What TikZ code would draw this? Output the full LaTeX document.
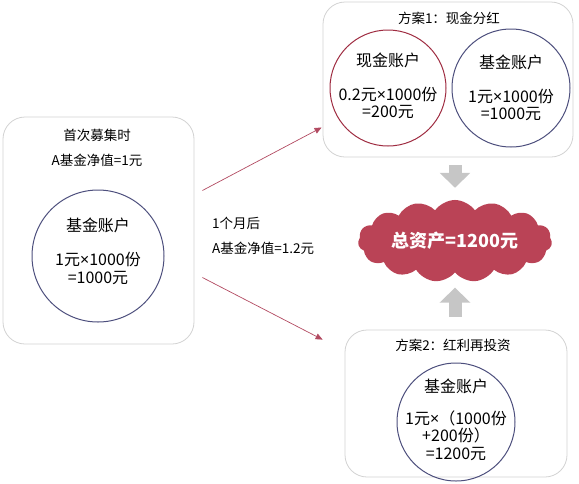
\documentclass[tikz,border=0pt]{standalone}
\usepackage{fontspec}
\setmainfont{Noto Sans CJK SC}
\newfontfamily\latinfont{Noto Sans}
\newcommand{\by}{{\latinfont ×}}
\usetikzlibrary{arrows.meta, positioning, shapes.symbols}
\definecolor{boxgray}{HTML}{D2D2D2}
\definecolor{acctblue}{HTML}{4D4F7D}
\definecolor{acctred}{HTML}{9E2B40}
\definecolor{linkred}{HTML}{B24A61}
\definecolor{cloudred}{HTML}{BA4356}
\definecolor{arrowgray}{HTML}{C6C6C6}
\tikzset{
  plan/.style={draw=boxgray, line width=0.8pt, rounded corners=22pt},
  acct/.style={circle, line width=1pt, inner sep=0pt},
  acctxt/.style={align=center, font=\fontsize{16}{17.5}\selectfont, inner sep=0pt},
  caption/.style={font=\fontsize{13.5}{15}\selectfont, inner sep=0pt},
  link/.style={draw=linkred, line width=0.7pt, -{Triangle[length=7pt,width=6pt]}},
  fatarrow/.style={draw=arrowgray, line width=13pt, -{Triangle[length=15pt,width=30pt]}},
}

\begin{document}
\begin{tikzpicture}[x=1pt, y=-1pt]
\useasboundingbox (0,0) rectangle (579,483);
% left: first offer
\node[plan, minimum width=191pt, minimum height=227pt] (first) at (98.5,230.5) {};
\node[caption] (firsttitle) at (97,135) {首次募集时};
\node[caption] (firstnav) at (97,160) {A基金净值=1元};
\node[acct, draw=acctblue, minimum size=132pt] (acct0) at (98,256) {};
\node[acctxt] at ([yshift=5pt]acct0.center) {基金账户\\[17pt]1元\by1000份\\=1000元};
% middle text
\node[caption, anchor=west] (month) at (212,223) {1个月后};
\node[caption, anchor=west] (newnav) at (212,248) {A基金净值=1.2元};
% plan 1: cash dividend
\node[plan, minimum width=250pt, minimum height=155pt] (plan1) at (448,79.5) {};
\node[caption] (plan1title) at (449,18) {方案1：现金分红};
\node[acct, draw=acctred, minimum size=116pt] (cash1) at (388,88) {};
\node[acctxt] at ([yshift=2pt]cash1.center) {现金账户\\[16pt]0.2元\by1000份\\=200元};
\node[acct, draw=acctblue, minimum size=118pt] (fund1) at (511,88) {};
\node[acctxt] at ([yshift=0pt]fund1.center) {基金账户\\[16pt]1元\by1000份\\=1000元};
% plan 2: reinvest
\node[plan, minimum width=222pt, minimum height=147pt] (plan2) at (456,403.5) {};
\node[caption] (plan2title) at (453,345) {方案2：红利再投资};
\node[acct, draw=acctblue, minimum size=118pt] (fund2) at (456,422) {};
\node[acctxt] at ([yshift=2pt]fund2.center) {基金账户\\[14pt]1元\by（1000份\\+200份）\\=1200元};
% total
\node[cloud, cloud puffs=15, cloud puff arc=110, aspect=2.8, fill=cloudred,
  minimum width=194pt, minimum height=70pt, inner sep=0pt,
  text=white, font=\fontsize{18}{20}\selectfont\bfseries] (total) at (455,241) {总资产=1200元};
% connectors
\draw[link] ([xshift=8pt, yshift=40pt]first.east) -- ([xshift=-1pt, yshift=-48pt]plan1.west);
\draw[link] ([xshift=8pt, yshift=-47pt]first.east) -- ([xshift=-22pt, yshift=-10pt]plan2.north west);
\draw[fatarrow, shorten <=8pt, shorten >=12pt] (total.north |- plan1.south) -- (total.north);
\draw[fatarrow, shorten <=13pt, shorten >=15pt] (total.south |- plan2.north) -- (total.south);
\end{tikzpicture}
\end{document}
